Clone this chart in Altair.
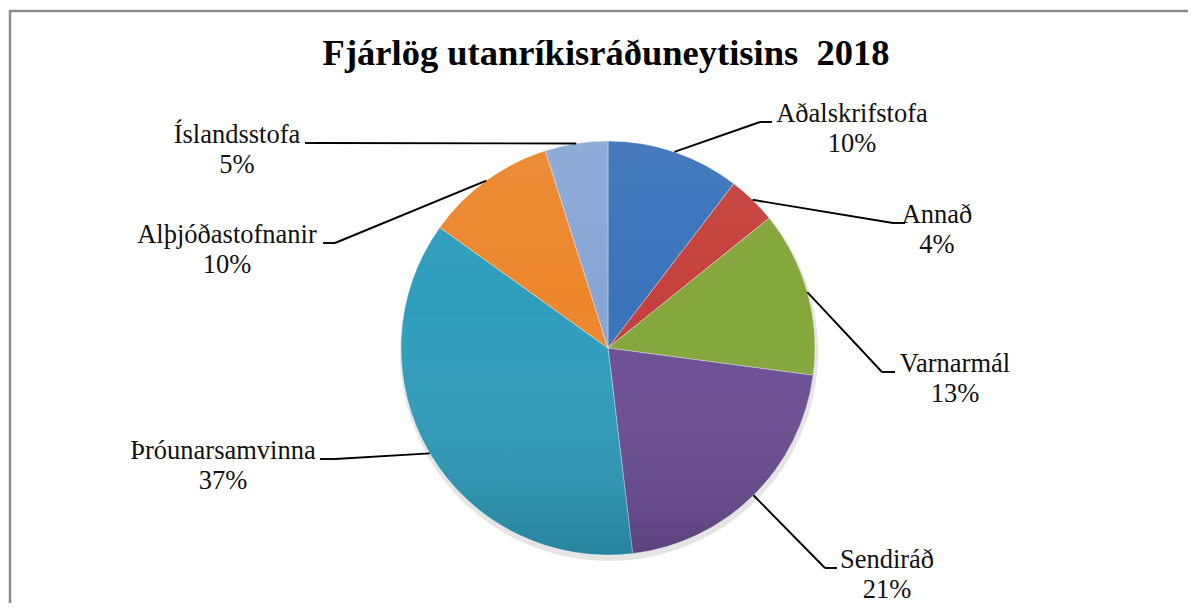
import math
import altair as alt
import pandas as pd

# ---- data ----
CATEGORIES = ["Aðalskrifstofa", "Annað", "Varnarmál", "Sendiráð",
              "Þróunarsamvinna", "Alþjóðastofnanir", "Íslandsstofa"]
SHARES = [10.4, 3.8, 12.9, 21.0, 36.8, 10.2, 4.9]
COLORS = ["#3a73ba", "#c4403c", "#84a63a", "#6c4e94", "#2e9dbc", "#ec862c", "#88a6d6"]
TITLE = "Fjárlög utanríkisráðuneytisins\u00a0 2018"

# ---- layout (page pixels; Excel-style "best fit" label placement) ----
ORIGIN = 8                       # page margin
CX, CY, R = 608 - ORIGIN, 348 - ORIGIN, 207
LABEL_CX = [852, 937, 955, 887, 223, 227, 237]
LABEL_BASE = [122, 223, 372, 568, 459, 243, 143]
ELBOW_X = [760, 893, 882, 825, 335, 335, 315]
END_X = [772, 905, 895, 837, 320, 323, 305]
LINE_GAP = 30
FONT = "Liberation Serif"

df = pd.DataFrame({
    "cat": CATEGORIES,
    "value": SHARES,
    "idx": list(range(len(CATEGORIES))),
    "lx": [v - ORIGIN for v in LABEL_CX],
    "ly": [v - ORIGIN for v in LABEL_BASE],
    "ex": [v - ORIGIN for v in ELBOW_X],
    "endx": [v - ORIGIN for v in END_X],
})
one = pd.DataFrame({"a": [0]})

base = alt.Chart(df)

border = alt.Chart(one).mark_rect(
    fill="transparent", stroke="#8c8c8c", strokeWidth=2.5
).encode(x=alt.value(2), x2=alt.value(1400), y=alt.value(3), y2=alt.value(900))

shadow = alt.Chart(one).mark_arc(
    outerRadius=R + 2, theta=0, theta2=2 * math.pi, fill="#000000", opacity=0.10
).encode(x=alt.value(CX + 1), y=alt.value(CY + 4))

pie = base.mark_arc(
    outerRadius=R, stroke="#ffffff", strokeOpacity=0.35, strokeWidth=1
).encode(
    theta=alt.Theta("value:Q", stack=True),
    color=alt.Color("cat:N", scale=alt.Scale(domain=CATEGORIES, range=COLORS), legend=None),
    order=alt.Order("idx:Q"),
    x=alt.value(CX), y=alt.value(CY),
)

shade = alt.Chart(one).mark_arc(
    outerRadius=R, theta=0, theta2=2 * math.pi,
    fill=alt.LinearGradient(
        gradient="linear", x1=0, y1=0, x2=0, y2=1,
        stops=[alt.GradientStop(color="rgba(255,255,255,0.06)", offset=0),
               alt.GradientStop(color="rgba(255,255,255,0)", offset=0.4),
               alt.GradientStop(color="rgba(0,0,0,0.16)", offset=1)],
    ),
).encode(x=alt.value(CX), y=alt.value(CY))

geo = base.transform_joinaggregate(
    total="sum(value)"
).transform_window(
    cum="sum(value)", sort=[alt.SortField("idx")], frame=[None, 0]
).transform_calculate(
    mid="2*PI*(datum.cum - datum.value/2)/datum.total",
    sx=f"{CX} + {R}*sin(datum.mid)",
    sy=f"{CY} - {R}*cos(datum.mid)",
    pct="format(100*datum.value/datum.total, '.0f') + '%'",
    py=f"datum.ly + {LINE_GAP}",
)

leader1 = geo.mark_rule(color="#000000", strokeWidth=1.9).encode(
    x=alt.X("sx:Q", scale=None, axis=None), y=alt.Y("sy:Q", scale=None, axis=None),
    x2="ex:Q", y2="ly:Q",
)
leader2 = geo.mark_rule(color="#000000", strokeWidth=1.9).encode(
    x=alt.X("ex:Q", scale=None, axis=None), y=alt.Y("ly:Q", scale=None, axis=None),
    x2="endx:Q",
)

names = geo.mark_text(font=FONT, fontSize=26.5, color="#111111",
                      align="center", baseline="alphabetic").encode(
    x=alt.X("lx:Q", scale=None, axis=None), y=alt.Y("ly:Q", scale=None, axis=None),
    text="cat:N",
)
pcts = geo.mark_text(font=FONT, fontSize=26.5, color="#111111",
                     align="center", baseline="alphabetic").encode(
    x=alt.X("lx:Q", scale=None, axis=None), y=alt.Y("py:Q", scale=None, axis=None),
    text="pct:N",
)

title = alt.Chart(one).mark_text(
    font=FONT, fontSize=36.5, fontWeight="bold", color="#000000",
    align="center", baseline="alphabetic", text=TITLE,
).encode(x=alt.value(606 - ORIGIN), y=alt.value(65 - ORIGIN))

chart = alt.layer(
    border, shadow, pie, shade, leader1, leader2, names, pcts, title
).properties(
    width=1180, height=595, padding=0, autosize=alt.AutoSizeParams(type="none"),
    background="#ffffff",
).configure_view(stroke=None)

chart.save("out.html", embed_options={"renderer": "svg", "actions": False})
